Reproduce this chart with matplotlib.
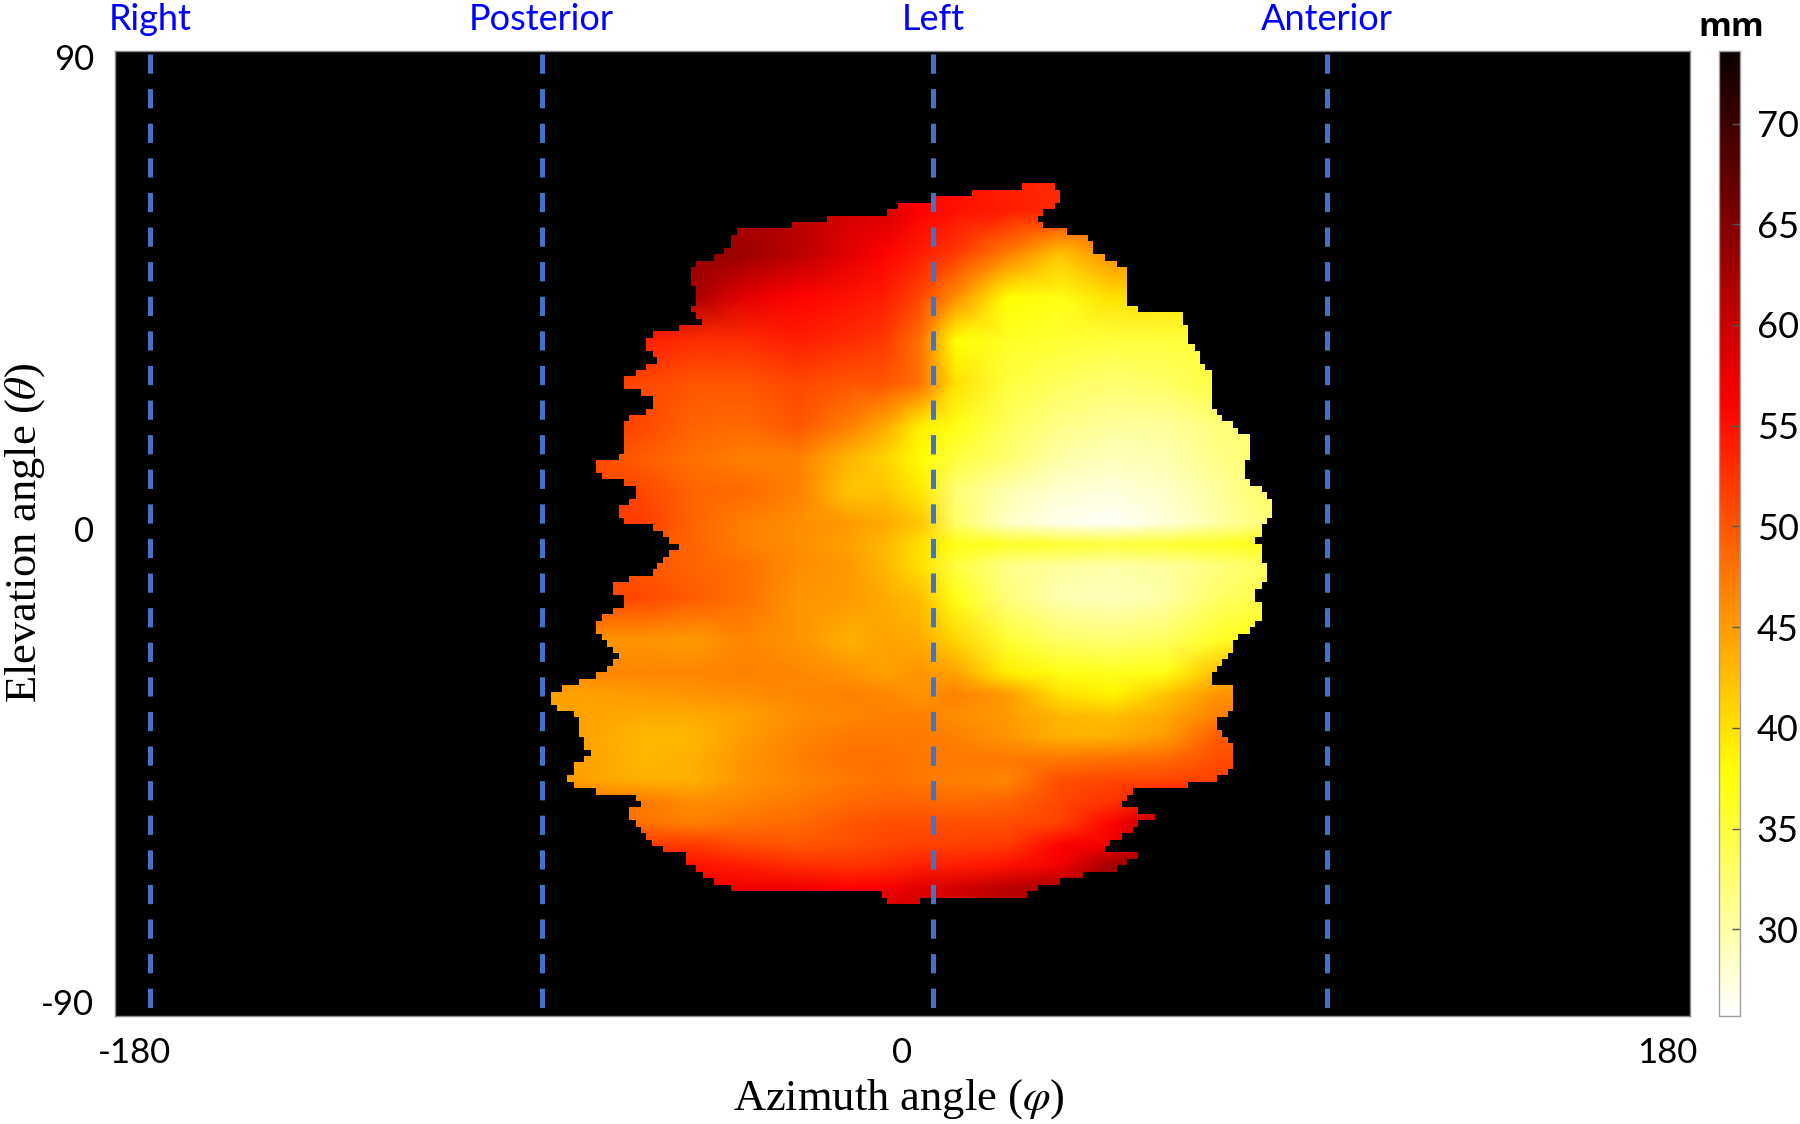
#!/usr/bin/python3
import numpy as np
import matplotlib
matplotlib.use("Agg")
import matplotlib.pyplot as plt
from matplotlib.patches import PathPatch
from matplotlib.path import Path
from matplotlib.transforms import ScaledTranslation, blended_transform_factory

# Nodes of the depth table, degrees
az_nodes = [-84, -72, -60, -48, -36, -24, -12, -4, 4, 12, 24, 36, 48, 60, 72, 88]
el_nodes = [68, 60, 52, 44, 36, 28, 20, 14, 8, 2, -2, -6, -12, -20, -26, -30,
            -34, -38, -42, -46, -50, -54, -58, -62, -66, -72]

# Depth in mm, one row per el_nodes entry
depth_mm = [
    [60, 60, 60, 60, 60, 60, 58, 57, 56, 55, 54, 53, 52, 52, 52, 52],
    [62, 62, 62, 62, 62, 61, 59, 59, 56, 55, 54, 53, 50, 50, 50, 50],
    [64, 64, 64, 64, 63, 61, 58, 56, 54, 52, 47, 42, 46, 46, 46, 46],
    [63, 63, 63, 62, 58, 56, 55, 54, 51, 46, 38, 37, 40, 40, 40, 40],
    [54, 54, 54, 53, 53, 54, 53, 52, 48, 38, 36, 35.5, 35, 35, 35, 35],
    [52, 52, 51, 50, 50, 51, 50, 50, 48, 40, 35, 33.5, 32.5, 33, 35, 35],
    [52, 52, 51, 49, 48.5, 50, 47, 44, 39, 37, 33.5, 31.5, 30.5, 30.5, 32, 33],
    [51, 51, 49.5, 48, 47, 47, 43, 41, 38, 35, 32.5, 30, 29, 29.5, 31.5, 33],
    [51, 51, 51, 49, 48.5, 47, 42, 42, 39.5, 32.5, 29.5, 28, 27.5, 28.5, 30.5, 34],
    [52, 52, 52, 49, 47, 46, 45, 44, 42, 33, 28.5, 26.5, 26, 27.5, 30, 33],
    [51, 51, 50, 49, 47, 46, 44.5, 43, 40, 37, 36, 35.5, 35, 35.5, 36, 37],
    [51, 51, 50, 49, 48, 46, 45, 43, 40, 35, 31.5, 30.5, 30, 30.5, 32, 34],
    [51, 51, 51, 49.5, 48, 45.5, 45, 44, 42.5, 37, 32, 29.5, 29, 30, 33, 35],
    [45.5, 45.5, 45.5, 45, 46.5, 45.5, 43.5, 44.5, 44, 41, 35.5, 33, 32.5, 33.5, 36, 38],
    [46.5, 46.5, 46.5, 46.5, 47, 46.5, 45.5, 44.5, 45.5, 44.5, 39, 37, 36.5, 37, 42.5, 46.5],
    [44.5, 44.5, 45, 45.5, 46, 46.5, 47, 46.5, 45.5, 47, 45, 40, 38.5, 42, 45.5, 46.5],
    [44.5, 44.5, 44, 44, 44.5, 46, 46.5, 47, 47, 46, 45, 43, 42.5, 44, 47, 48],
    [44.5, 44.5, 43, 43, 45, 46.5, 47.5, 47.5, 47.5, 47, 45.5, 43.5, 43.5, 45, 49.5, 50.5],
    [45.5, 44.5, 43, 43.5, 45.5, 47, 48, 48, 47.5, 47.5, 47.5, 47.5, 48, 48.5, 50.5, 51.5],
    [45.5, 44.5, 43.5, 43.5, 45.5, 46.5, 47.5, 48, 47.5, 47, 46.5, 50.5, 51, 51, 51.5, 52.5],
    [47.5, 47.5, 47.5, 46, 46.5, 47.5, 48.5, 49, 49, 48.5, 49, 51, 52.5, 56, 56, 56],
    [48, 48, 48, 47, 48, 48.5, 50, 50.5, 50.5, 50.5, 50.5, 51.5, 56, 62, 62, 62],
    [52, 52, 52, 52, 50.5, 50, 50.5, 51, 51.5, 51.5, 52, 56, 57, 62, 62, 62],
    [55, 55, 55, 55, 54, 53, 52.5, 53, 54, 54, 55, 57, 63, 64, 64, 64],
    [57, 57, 57, 57, 57, 57, 56, 56.5, 58, 59, 61, 62, 63, 63, 63, 63],
    [60, 60, 60, 60, 60, 60, 60, 60.5, 60, 61, 62, 62, 63, 63, 63, 63],
]

# Outline of the measured region: one left and right azimuth per 1.2 degree row
first_row_el = 65.3
row_height = 1.2
left_az = [
    27.2, 15.8, 7.7, -1.0, -3.6, -17.3, -25.3, -37.9, -39.3, -39.3, -40.8, -43.1,
    -47.2, -48.3, -48.3, -48.3, -47.2, -47.2, -47.2, -48.3, -47.2, -45.8, -51.1,
    -57.0, -58.6, -58.6, -57.0, -56.1, -58.6, -60.9, -63.7, -63.7, -59.8, -57.0,
    -57.0, -58.6, -62.5, -63.7, -63.7, -63.7, -63.7, -63.7, -64.8, -70.1, -70.1,
    -68.7, -63.7, -60.9, -60.9, -62.5, -64.8, -64.8, -63.7, -57.0, -54.7, -53.4,
    -51.1, -53.4, -54.7, -56.1, -57.1, -62.5, -66.2, -66.2, -63.7, -63.7, -66.2,
    -68.7, -70.1, -70.1, -68.7, -67.5, -66.2, -64.8, -66.2, -67.5, -70.1, -73.9,
    -77.8, -80.3, -80.3, -79.0, -75.1, -73.9, -73.9, -73.9, -72.8, -72.8, -71.2,
    -72.8, -75.1, -75.1, -76.7, -75.1, -70.1, -60.9, -59.8, -62.5, -62.5, -60.9,
    -59.8, -58.6, -57.3, -54.7, -49.5, -49.5, -47.2, -45.6, -43.1, -39.2, -4.7, -3.5,
]
right_az = [
    34.9, 36.0, 36.0, 34.9, 32.1, 31.0, 32.1, 37.5, 42.4, 43.5, 43.5, 46.3,
    49.0, 51.2, 51.2, 51.2, 51.2, 51.2, 51.2, 53.8, 64.1, 64.1, 65.3,
    65.3, 65.3, 66.9, 68.0, 68.0, 69.1, 70.7, 70.7, 70.7, 70.7, 70.7,
    70.7, 71.8, 73.0, 75.5, 76.7, 79.4, 79.4, 79.4, 79.4, 78.3, 78.3,
    78.3, 79.4, 82.2, 83.3, 84.5, 84.5, 84.5, 83.3, 82.2, 82.2, 80.6,
    82.2, 82.2, 82.2, 83.3, 83.3, 83.3, 82.2, 80.6, 80.6, 82.2, 82.2,
    82.2, 80.6, 79.4, 76.7, 75.5, 75.5, 74.4, 73.0, 71.9, 70.7, 70.7,
    75.5, 75.5, 75.5, 75.5, 74.4, 71.9, 71.9, 73.0, 74.4, 75.5, 75.5,
    75.5, 75.5, 74.4, 71.9, 65.3, 52.7, 51.3, 50.2, 53.8, 57.7, 53.8,
    52.7, 50.2, 47.4, 46.3, 53.8, 51.3, 49.0, 41.3, 36.0, 31.0, 28.5, 4.0,
]

guide_az = [-172, -82.5, 7, 97]
guide_names = ["Right", "Posterior", "Left", "Anterior"]
x_ticks = [-180, 0, 180]
y_ticks = [90, 0, -90]
cbar_ticks = [30, 35, 40, 45, 50, 55, 60, 65, 70]
depth_min = 25.7
depth_max = 73.6

W, H = 1800, 1124
label_font = ["Lato", "DejaVu Sans"]

fig = plt.figure(figsize=(W / 100, H / 100), dpi=100, facecolor="white")
ax = fig.add_axes([115 / W, 1 - 1016 / H, 1575 / W, 965 / H], facecolor="black")

mesh = ax.pcolormesh(az_nodes, el_nodes, np.array(depth_mm), shading="gouraud",
                     cmap="hot_r", vmin=depth_min, vmax=depth_max, rasterized=True)

# Clip the depth table to the stepped outline
verts = []
for r, a in enumerate(left_az):
    top = first_row_el - r * row_height
    verts += [(a, top), (a, top - row_height)]
for r in range(len(right_az) - 1, -1, -1):
    top = first_row_el - r * row_height
    verts += [(right_az[r], top - row_height), (right_az[r], top)]
verts.append(verts[0])
outline = PathPatch(Path(verts), transform=ax.transData, facecolor="none", edgecolor="none")
ax.add_patch(outline)
mesh.set_clip_path(outline)

ax.set_xlim(-180, 180)
ax.set_ylim(-90, 90)

# Dashed guides and their names
label_trans = blended_transform_factory(ax.transData, fig.transFigure)
for a, name in zip(guide_az, guide_names):
    ax.plot([a, a], [89.5, -88.6], color="#4472C4", lw=3.6, dashes=(3.85, 3.07),
            dash_capstyle="butt")
    ax.text(a, 1 - 20 / H, name, transform=label_trans, color="#0000FF", fontsize=26,
            family=label_font, ha="center", va="center", clip_on=False)

# Tick labels sit a little off their ticks
ax.set_xticks(x_ticks)
ax.set_yticks(y_ticks)
ax.set_xticklabels([str(t) for t in x_ticks], fontsize=25, family=label_font)
ax.set_yticklabels([str(t) for t in y_ticks], fontsize=25, family=label_font)
ax.tick_params(length=0)
ax.tick_params(axis="x", pad=15)
ax.tick_params(axis="y", pad=15)
for lab, dx in zip(ax.get_xticklabels(), [19, 0, -23]):
    lab.set_transform(lab.get_transform() + ScaledTranslation(dx / 100, 0, fig.dpi_scale_trans))
for lab, dy in zip(ax.get_yticklabels(), [-6, 5, 14]):
    lab.set_transform(lab.get_transform() + ScaledTranslation(0, dy / 100, fig.dpi_scale_trans))
for s in ax.spines.values():
    s.set_color("#8c8c8c")
    s.set_linewidth(1)

fig.text(899 / W, 1 - 1099 / H, r"Azimuth angle ($\varphi$)", family="Liberation Serif",
         fontsize=32, ha="center", va="center", math_fontfamily="stix")
fig.text(25 / W, 1 - 533 / H, r"Elevation angle ($\theta$)", family="Liberation Serif",
         fontsize=32, ha="center", va="center", rotation=90, math_fontfamily="stix")

# Colour bar
cax = fig.add_axes([1719 / W, 1 - 1016 / H, 21 / W, 965 / H])
cbar = fig.colorbar(mesh, cax=cax, ticks=cbar_ticks)
cbar.ax.tick_params(direction="in", length=6, width=1, color="#555555", pad=12, labelsize=26)
for lab in cbar.ax.get_yticklabels():
    lab.set_family(label_font)
cbar.outline.set_edgecolor("#a0a0a0")
cbar.outline.set_linewidth(1)
fig.text(1731 / W, 1 - 28 / H, "mm", family=["Open Sans", "DejaVu Sans"], fontweight="bold",
         fontsize=24, ha="center", va="center")

fig.savefig("out.png", dpi=100)
